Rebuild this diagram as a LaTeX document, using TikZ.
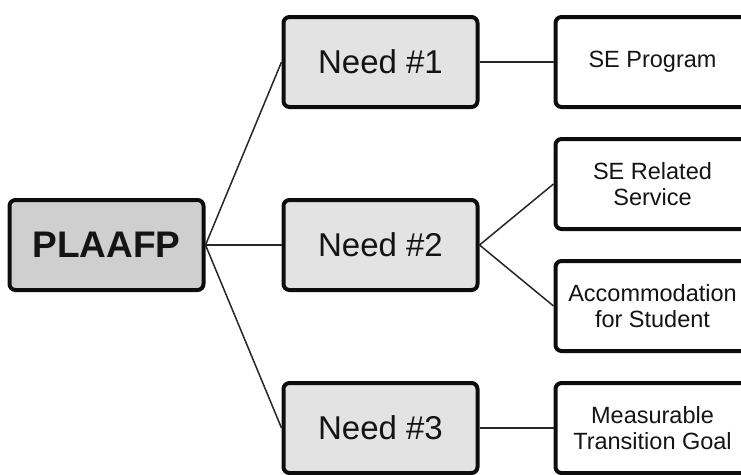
\documentclass[tikz,border=0pt]{standalone}
\usepackage{fontspec}
\setmainfont{Liberation Sans}
\usepackage{tikz}
\usetikzlibrary{positioning}

\begin{document}
\begin{tikzpicture}[
        x=1pt, y=1pt,
        node distance=76pt,
        box/.style={rectangle, draw=black!95, line width=4pt, rounded corners=6pt, minimum width=194pt, minimum height=90pt, align=center, text=black!92},
        root/.style={box, fill=black!19, font=\fontsize{37}{40}\selectfont\bfseries},
        need/.style={box, fill=black!11, font=\fontsize{33}{36}\selectfont},
        item/.style={box, fill=white, font=\fontsize{23.5}{26}\selectfont},
        link/.style={line width=1.5pt, draw=black!85}
    ]
    \useasboundingbox (0,0) rectangle (741,-474);

    % Root node
    \node[root] (plaafp) at (106.5,-245) {PLAAFP};

    % Needs
    \node[need, right=of plaafp] (need2) {Need \#2};
    \node[need, above=89pt of need2] (need1) {Need \#1};
    \node[need, below=89pt of need2] (need3) {Need \#3};

    % Items
    \node[item, right=74pt of need1] (program) {SE Program};
    \node[item, right=74pt of need2, yshift=61pt] (related) {SE Related\\Service};
    \node[item, right=74pt of need2, yshift=-61pt] (accom) {Accommodation\\for Student};
    \node[item, right=74pt of need3] (goal) {Measurable\\Transition Goal};

    % Links
    \draw[link] (plaafp.east) -- (need1.west);
    \draw[link] (plaafp.east) -- (need2.west);
    \draw[link] (plaafp.east) -- (need3.west);
    \draw[link] (need1.east) -- (program.west);
    \draw[link] (need2.east) -- (related.west);
    \draw[link] (need2.east) -- (accom.west);
    \draw[link] (need3.east) -- (goal.west);
\end{tikzpicture}
\end{document}
